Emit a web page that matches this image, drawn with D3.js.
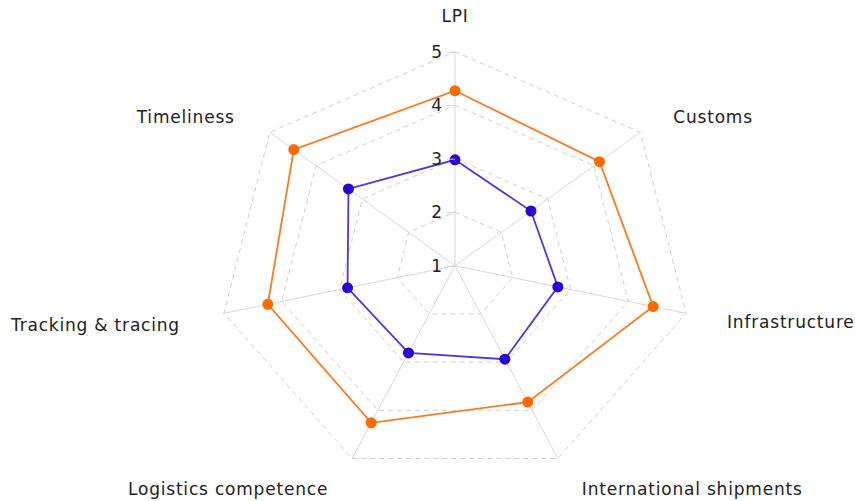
<!DOCTYPE html>
<html>
<head>
<meta charset="utf-8">
<script src="https://cdn.jsdelivr.net/npm/d3@7"></script>
<style>
  body { margin: 0; background: #fff; }
  svg { display: block; }
</style>
</head>
<body>
<svg id="chart"></svg>
<script>
// categories (clockwise from the top)
const categories = ["LPI", "Customs", "Infrastructure", "International shipments",
  "Logistics competence", "Tracking & tracing", "Timeliness"];
const seriesOrange = [4.27, 4.12, 4.43, 3.83, 4.26, 4.24, 4.48];
const seriesBlue = [2.98, 2.64, 2.78, 2.94, 2.81, 2.86, 3.3];
const tickValues = [1, 2, 3, 4, 5];

const width = 855, height = 501;
const cx = 455, cy = 265.7;

const svg = d3.select('#chart')
    .attr('width', width)
    .attr('height', height)
    .style('font-family', 'DejaVu Sans, Verdana, sans-serif');

// radius scales, the plot is a bit wider than tall
const rX = d3.scaleLinear().domain([1, 5]).range([0, 237]);
const rY = d3.scaleLinear().domain([1, 5]).range([0, 214]);
const angle = d3.scaleLinear().domain([0, categories.length]).range([0, 2 * Math.PI]);

const px = (i, v) => cx + rX(v) * Math.sin(angle(i));
const py = (i, v) => cy - rY(v) * Math.cos(angle(i));

const g = svg.append('g');

// dashed grid polygons
g.selectAll('.grid')
  .data(tickValues.slice(1))
  .join('polygon')
    .attr('class', 'grid')
    .attr('points', v => categories.map((c, i) => `${px(i, v)},${py(i, v)}`).join(' '))
    .attr('fill', 'none')
    .attr('stroke', '#d0d0d0')
    .attr('stroke-width', 1)
    .attr('stroke-dasharray', '5,4');

// spokes
g.selectAll('.spoke')
  .data(categories)
  .join('line')
    .attr('class', 'spoke')
    .attr('x1', cx).attr('y1', cy)
    .attr('x2', (d, i) => px(i, 5))
    .attr('y2', (d, i) => py(i, 5))
    .attr('stroke', '#d8d8d8')
    .attr('stroke-width', 1);

// radial axis on the LPI spoke
const yAxis = d3.axisLeft(d3.scaleLinear().domain([1, 5]).range([cy, cy - 214]))
    .tickValues(tickValues)
    .tickFormat(d3.format('d'))
    .tickSize(8)
    .tickPadding(5);

const axisG = svg.append('g')
    .attr('transform', `translate(${cx},0)`)
    .call(yAxis);
axisG.select('.domain').remove();
axisG.selectAll('.tick line').attr('stroke', '#d0d0d0');
axisG.selectAll('.tick text')
    .attr('fill', '#222')
    .style('font-size', '17px')
    .style('font-family', 'DejaVu Sans, Verdana, sans-serif');

// category labels
const labelOffsets = [
  { dx: 0, dy: -30, anchor: 'middle' },
  { dx: 33, dy: -9, anchor: 'start' },
  { dx: 41, dy: 15, anchor: 'start' },
  { dx: 24, dy: 36, anchor: 'start' },
  { dx: -24, dy: 36, anchor: 'end' },
  { dx: -44, dy: 18, anchor: 'end' },
  { dx: -35, dy: -9, anchor: 'end' }
];
svg.selectAll('.cat')
  .data(categories)
  .join('text')
    .attr('class', 'cat')
    .attr('x', (d, i) => px(i, 5) + labelOffsets[i].dx)
    .attr('y', (d, i) => py(i, 5) + labelOffsets[i].dy)
    .attr('text-anchor', (d, i) => labelOffsets[i].anchor)
    .attr('fill', '#222')
    .style('font-size', '17px')
    .style('letter-spacing', '0.8px')
    .text(d => d);

// series
const series = [
  { values: seriesOrange, line: '#ff7a1f', dot: '#ff6a00' },
  { values: seriesBlue, line: '#5533e6', dot: '#2a00d4' }
];

series.forEach(s => {
  const pts = s.values.map((v, i) => [px(i, v), py(i, v)]);
  g.append('path')
    .attr('d', d3.line().curve(d3.curveLinearClosed)(pts))
    .attr('fill', 'none')
    .attr('stroke', s.line)
    .attr('stroke-width', 1.8);
  g.selectAll(null)
    .data(pts)
    .join('circle')
      .attr('cx', d => d[0])
      .attr('cy', d => d[1])
      .attr('r', 5.5)
      .attr('fill', s.dot);
});
</script>
</body>
</html>
